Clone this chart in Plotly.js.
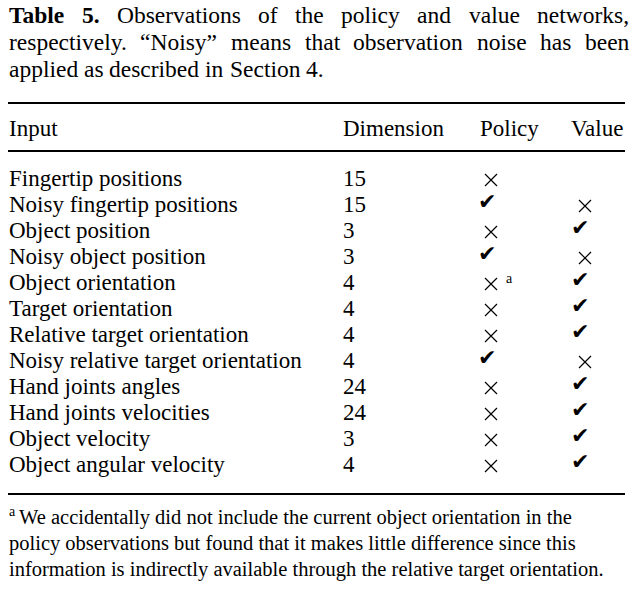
<!DOCTYPE html>
<html>
<head>
<meta charset="utf-8">
<script src="https://cdn.plot.ly/plotly-3.0.1.min.js"></script>
<style>html,body{margin:0;padding:0;background:#fff;}#chart{width:643px;height:594px;}</style>
</head>
<body>
<div id="chart"></div>
<script>
// ---- data ----
const captionBold = "Table 5.";
const captionLines = [
  "Table 5. Observations of the policy and value networks,",
  "respectively. \u201cNoisy\u201d means that observation noise has been",
  "applied as described in Section 4."
];
const headers = ["Input", "Dimension", "Policy", "Value"];
const inputs = [
  "Fingertip positions",
  "Noisy fingertip positions",
  "Object position",
  "Noisy object position",
  "Object orientation",
  "Target orientation",
  "Relative target orientation",
  "Noisy relative target orientation",
  "Hand joints angles",
  "Hand joints velocities",
  "Object velocity",
  "Object angular velocity"
];
const dims = [15, 15, 3, 3, 4, 4, 4, 4, 24, 24, 3, 4];
const policy = ["x", "v", "x", "v", "x", "x", "x", "v", "x", "x", "x", "x"];
const value  = ["",  "x", "v", "x", "v", "v", "v", "x", "v", "v", "v", "v"];
const policyNotes = ["", "", "", "", "a", "", "", "", "", "", "", ""];
const footnoteMark = "a";
const footnoteLines = [
  "We accidentally did not include the current object orientation in the",
  "policy observations but found that it makes little difference since this",
  "information is indirectly available through the relative target orientation."
];

// ---- layout constants ----
const W = 643, H = 594;
const serif = "Liberation Serif, Times New Roman, serif";
const black = "#000";
const leftX = 8, rightX = 627;
const capSize = 23.5, bodySize = 23, noteSize = 20.5;
const capBase = [23, 50, 77];
const headerBase = 136;
const rowBase0 = 186, rowStep = 26;
const noteBase = [524, 550, 576];
const colX = {input: 8, dim: 342, policyX: 491, policyV: 487, valueX: 585, valueV: 580, policyHdr: 479, valueHdrRight: 624};

const ann = [];
function txt(x, baseline, text, size, opts) {
  opts = opts || {};
  ann.push(Object.assign({
    xref: "x", yref: "y", x: x, y: baseline - size * 0.3375,
    text: text, showarrow: false, xanchor: "left", yanchor: "middle",
    font: {family: serif, size: size, color: black},
    borderpad: 0
  }, opts));
}

// caption, justified
const cv = document.createElement("canvas").getContext("2d");
function measure(word, bold) {
  cv.font = (bold ? "bold " : "") + capSize + "px 'Liberation Serif'";
  return cv.measureText(word).width;
}
captionLines.forEach((line, li) => {
  const words = line.split(" ");
  const boldCount = li === 0 ? captionBold.split(" ").length : 0;
  if (li === captionLines.length - 1) {
    let x = leftX;
    const spaceW = measure(" ", false);
    words.forEach((w, wi) => {
      const b = wi < boldCount;
      txt(x, capBase[li], b ? "<b>" + w + "</b>" : w, capSize);
      x += measure(w, b) + spaceW;
    });
    return;
  }
  const widths = words.map((w, wi) => measure(w, wi < boldCount));
  const total = widths.reduce((a, b) => a + b, 0);
  const gap = (rightX + 1 - leftX - total) / (words.length - 1);
  let x = leftX;
  words.forEach((w, wi) => {
    const b = wi < boldCount;
    txt(x, capBase[li], b ? "<b>" + w + "</b>" : w, capSize);
    x += widths[wi] + gap;
  });
});

// header
txt(colX.input, headerBase, headers[0], bodySize);
txt(colX.dim, headerBase, headers[1], bodySize);
txt(colX.policyHdr, headerBase, headers[2], bodySize);
txt(colX.valueHdrRight, headerBase, headers[3], bodySize, {xanchor: "right"});

// marks: crosses as thin-x markers, checks as glyphs
const crossX = [], crossY = [];
function mark(xX, xV, baseline, m) {
  if (m === "x") {
    crossX.push(xX); crossY.push(baseline - 6);
  } else if (m === "v") {
    ann.push({
      xref: "x", yref: "y", x: xV, y: baseline - 11,
      text: "\u2714", showarrow: false, xanchor: "center", yanchor: "middle",
      font: {family: "DejaVu Sans", size: 22, color: black}, borderpad: 0
    });
  }
}

inputs.forEach((name, i) => {
  const b = rowBase0 + i * rowStep;
  txt(colX.input, b, name, bodySize);
  txt(colX.dim, b, String(dims[i]), bodySize);
  mark(colX.policyX, colX.policyV, b, policy[i]);
  mark(colX.valueX, colX.valueV, b, value[i]);
  if (policyNotes[i]) txt(505, b - 7, policyNotes[i], 14);
});

// footnote
txt(leftX, noteBase[0] - 8, footnoteMark, 14);
footnoteLines.forEach((l, i) => {
  txt(i === 0 ? 18 : leftX, noteBase[i], l, noteSize);
});

// rules
const rules = [
  {y: 103, w: 2.2},
  {y: 151, w: 2.2},
  {y: 494, w: 2.2}
];
const shapes = rules.map(r => ({
  type: "line", xref: "x", yref: "y", x0: leftX, x1: rightX - 2, y0: r.y, y1: r.y,
  line: {color: black, width: r.w}
}));

const crossTrace = {
  type: "scatter", mode: "markers", x: crossX, y: crossY,
  marker: {symbol: "x-thin-open", size: 12, color: black, line: {color: black, width: 1.2}},
  hoverinfo: "skip", showlegend: false
};

Plotly.newPlot("chart", [crossTrace], {
  width: W, height: H,
  margin: {l: 0, r: 0, t: 0, b: 0, pad: 0},
  paper_bgcolor: "#fff", plot_bgcolor: "#fff",
  xaxis: {range: [0, W], visible: false, fixedrange: true},
  yaxis: {range: [H, 0], visible: false, fixedrange: true},
  showlegend: false,
  annotations: ann,
  shapes: shapes
}, {staticPlot: true, displayModeBar: false});
</script>
</body>
</html>
